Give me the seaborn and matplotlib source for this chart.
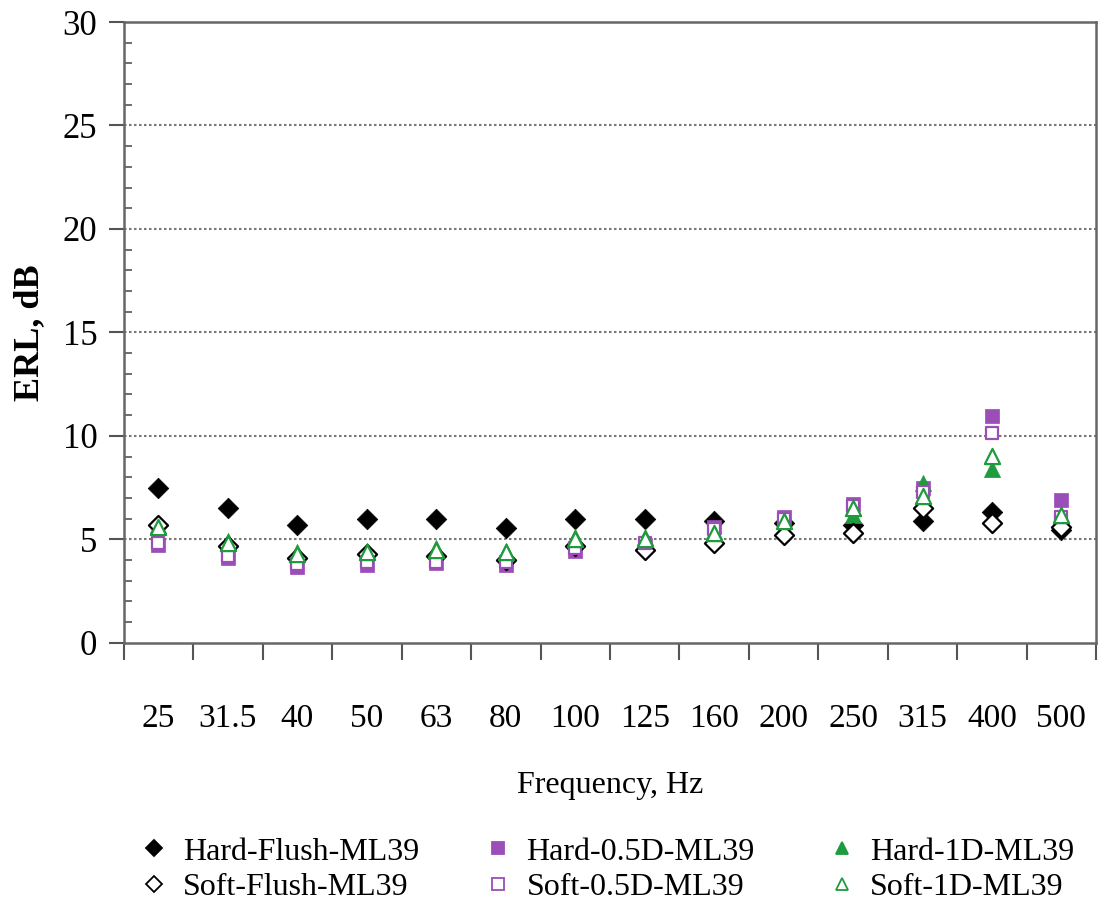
import matplotlib
matplotlib.use("Agg")
import matplotlib.pyplot as plt
from matplotlib.lines import Line2D
import seaborn as sns
import pandas as pd

freqs = ["25", "31.5", "40", "50", "63", "80", "100", "125", "160", "200", "250", "315", "400", "500"]
hard_flush = [7.5, 6.5, 5.7, 6.0, 6.0, 5.55, 6.0, 6.0, 5.9, 5.8, 5.7, 5.9, 6.3, 5.45]
soft_flush = [5.7, 4.7, 4.1, 4.3, 4.2, 4.0, 4.7, 4.5, 4.8, 5.2, 5.3, 6.5, 5.8, 5.6]
hard_05d = [4.75, 4.1, 3.65, 3.75, 3.85, 3.75, 4.45, 4.75, 5.6, 6.1, 6.7, 7.5, 10.95, 6.9]
soft_05d = [4.8, 4.2, 3.8, 3.9, 3.9, 3.9, 4.6, 4.8, 5.5, 6.0, 6.6, 7.3, 10.15, 6.1]
hard_1d = [5.7, 4.9, 4.4, 4.45, 4.6, 4.45, 5.1, 5.1, 5.4, 5.6, 6.2, 7.7, 8.4, 6.1]
soft_1d = [5.6, 4.8, 4.3, 4.4, 4.5, 4.4, 5.0, 5.0, 5.3, 5.9, 6.5, 7.1, 9.05, 6.2]

names = ["Hard-Flush-ML39", "Soft-Flush-ML39", "Hard-0.5D-ML39",
         "Soft-0.5D-ML39", "Hard-1D-ML39", "Soft-1D-ML39"]
series = [hard_flush, soft_flush, hard_05d, soft_05d, hard_1d, soft_1d]

BLACK = "#000000"
PURPLE = "#9B4DB8"
GREEN = "#1E9B3C"
styles = {
    "Hard-Flush-ML39": dict(marker="D", color=BLACK, filled=True, s=110),
    "Soft-Flush-ML39": dict(marker="D", color=BLACK, filled=False, s=95),
    "Hard-0.5D-ML39": dict(marker="s", color=PURPLE, filled=True, s=105),
    "Soft-0.5D-ML39": dict(marker="s", color=PURPLE, filled=False, s=85),
    "Hard-1D-ML39": dict(marker="^", color=GREEN, filled=True, s=135),
    "Soft-1D-ML39": dict(marker="^", color=GREEN, filled=False, s=120),
}

sns.set_theme(style="white")
plt.rcParams["font.family"] = ["Liberation Serif", "DejaVu Serif"]
plt.rcParams["text.color"] = "black"
plt.rcParams["axes.labelcolor"] = "black"

fig = plt.figure(figsize=(11.05, 9.17), dpi=100)
ax = fig.add_axes([0.112, 0.299, 0.880, 0.677])

for name in names:
    vals = series[names.index(name)]
    df = pd.DataFrame({"Frequency": freqs, "ERL": vals})
    st = styles[name]
    if st["filled"]:
        sns.scatterplot(data=df, x="Frequency", y="ERL", ax=ax, marker=st["marker"],
                        color=st["color"], edgecolor=st["color"], s=st["s"],
                        linewidth=0.5, zorder=3)
    else:
        sns.scatterplot(data=df, x="Frequency", y="ERL", ax=ax, marker=st["marker"],
                        color="white", edgecolor=st["color"], s=st["s"],
                        linewidth=1.6, zorder=4)

ax.set_xlim(-0.5, len(freqs) - 0.5)
ax.set_ylim(0, 30)

# x ticks: marks at category boundaries, labels at centres
ax.set_xticks([i - 0.5 for i in range(len(freqs) + 1)])
ax.set_xticklabels([])
ax.set_xticks(range(len(freqs)), minor=True)
ax.set_xticklabels(freqs, minor=True, fontsize=24)
ax.tick_params(axis="x", which="major", direction="out", length=12, width=1.5,
               color="#555555", bottom=True)
ax.tick_params(axis="x", which="minor", length=0, pad=44, labelcolor="black")

ax.set_yticks(range(0, 31, 5))
ax.set_yticks(range(0, 31, 1), minor=True)
ax.tick_params(axis="y", which="major", direction="out", length=11, width=1.5,
               color="#555555", labelsize=25, pad=8, left=True, labelcolor="black")
ax.tick_params(axis="y", which="minor", direction="in", length=6, width=1.2,
               color="#555555", left=True)

for yv in range(5, 30, 5):
    ax.axhline(yv, color="#777777", lw=1.5, ls=(0, (1.2, 1.2)), zorder=1)

for sp in ax.spines.values():
    sp.set_color("#666666")
    sp.set_linewidth(1.8)

ax.set_xlabel("Frequency, Hz", fontsize=23, labelpad=26)
ax.set_ylabel("ERL, dB", fontsize=26, fontweight="bold", labelpad=12)

# legend in three separate columns
def handle(name):
    st = styles[name]
    return Line2D([], [], linestyle="none", marker=st["marker"],
                  markerfacecolor=st["color"] if st["filled"] else "white",
                  markeredgecolor=st["color"], markeredgewidth=1.3, markersize=8)

cols = [(["Hard-Flush-ML39", "Soft-Flush-ML39"], 0.128),
        (["Hard-0.5D-ML39", "Soft-0.5D-ML39"], 0.439),
        (["Hard-1D-ML39", "Soft-1D-ML39"], 0.750)]
for labels, xpos in cols:
    fig.legend([handle(n) for n in labels], labels, loc="upper left",
               bbox_to_anchor=(xpos, 0.087), frameon=False,
               fontsize=23, handlelength=0.8, handletextpad=0.5,
               labelspacing=0.2, borderaxespad=0, borderpad=0)

fig.savefig("out.png", dpi=100)
